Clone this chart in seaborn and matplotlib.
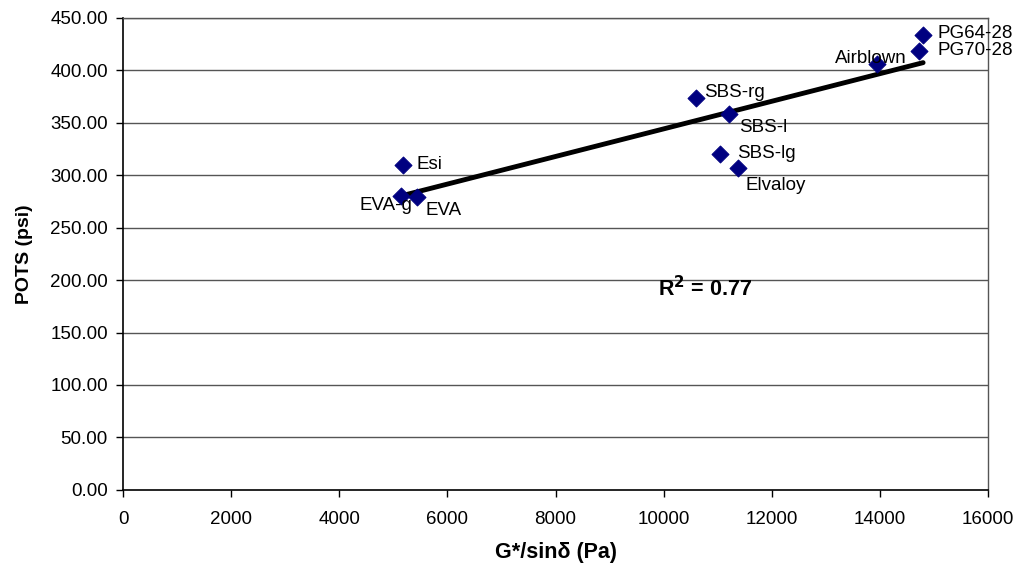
import numpy as np
import pandas as pd
import matplotlib
matplotlib.use("Agg")
import matplotlib.pyplot as plt
import seaborn as sns

labels = ["Esi", "EVA-g", "EVA", "SBS-rg", "SBS-l", "SBS-lg", "Elvaloy", "Airblown", "PG64-28", "PG70-28"]
g_sin = [5180, 5143, 5439, 10600, 11211, 11045, 11378, 13949, 14800, 14726]
pots = [310.0, 280.3, 279.3, 373.7, 358.5, 320.3, 307.0, 406.0, 433.8, 418.5]
x_ticks = [0, 2000, 4000, 6000, 8000, 10000, 12000, 14000, 16000]
y_ticks = [0, 50, 100, 150, 200, 250, 300, 350, 400, 450]
r2_text = "R$^\\mathbf{2}$ = 0.77"

df = pd.DataFrame({"x": g_sin, "y": pots, "label": labels})

sns.set_theme(style="white", rc={"text.color": "black", "axes.labelcolor": "black",
                                 "xtick.color": "black", "ytick.color": "black"})
plt.rcParams["font.family"] = ["Liberation Sans", "DejaVu Sans"]

fig = plt.figure(figsize=(10.34, 5.77), dpi=100)
ax = fig.add_axes([0.119, 0.151, 0.9555 - 0.119, 0.969 - 0.151])

for yv in y_ticks[1:]:
    ax.axhline(yv, color="#555555", lw=1.0, zorder=0)

sns.regplot(data=df, x="x", y="y", ax=ax, ci=None, scatter=False,
            line_kws=dict(color="black", lw=3.5, zorder=2))
sns.scatterplot(data=df, x="x", y="y", ax=ax, marker="D", s=75,
                color="#000080", edgecolor="#000080", zorder=3, legend=False)

# label offsets in points (dx, dy, ha, va)
offsets = {
    "Esi": (10, 0, "left", "center"),
    "EVA-g": (8, -7, "right", "center"),
    "EVA": (6, -10, "left", "center"),
    "SBS-rg": (6, 4, "left", "center"),
    "SBS-l": (7, -10, "left", "center"),
    "SBS-lg": (12, 0, "left", "center"),
    "Elvaloy": (5, -13, "left", "center"),
    "Airblown": (21, 4, "right", "center"),
    "PG64-28": (10, 1, "left", "center"),
    "PG70-28": (13, 0, "left", "center"),
}
for lab, xv, yv in zip(labels, g_sin, pots):
    dx, dy, ha, va = offsets[lab]
    ax.annotate(lab, (xv, yv), xytext=(dx, dy), textcoords="offset points",
                ha=ha, va=va, fontsize=13.5, color="black", zorder=4)

ax.text(0.673, 0.426, r2_text, transform=ax.transAxes, fontsize=15.5,
        fontweight="bold", ha="center", va="center", color="black")

ax.set_xlim(0, 16000)
ax.set_ylim(0, 450)
ax.set_xticks(x_ticks)
ax.set_xticklabels([str(v) for v in x_ticks])
ax.set_yticks(y_ticks)
ax.set_yticklabels([f"{v:.2f}" for v in y_ticks])
ax.tick_params(axis="both", direction="out", length=5, width=1, color="black",
               labelcolor="black", labelsize=13.5, bottom=True, left=True)
ax.tick_params(axis="x", pad=10)
ax.tick_params(axis="y", pad=6)

for side in ["left", "bottom"]:
    ax.spines[side].set_color("black")
    ax.spines[side].set_linewidth(1.2)
for side in ["top", "right"]:
    ax.spines[side].set_color("#555555")
    ax.spines[side].set_linewidth(1.0)

ax.set_xlabel("G*/sin\u03b4 (Pa)", fontsize=15.5, fontweight="bold", labelpad=10, color="black")
ax.set_ylabel("POTS (psi)", fontsize=14, fontweight="bold", labelpad=12, color="black")

fig.savefig("out.png", dpi=100)
